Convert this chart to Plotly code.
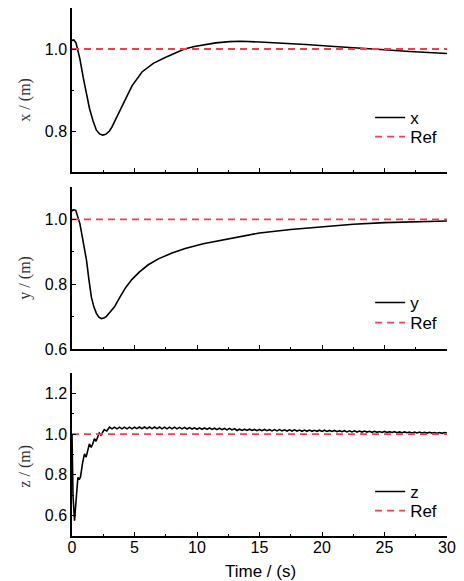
import plotly.graph_objects as go

# ---------------- data ----------------
x_time = [0, 0.15, 0.32, 0.5, 0.63, 0.9, 1.16, 1.4, 1.68, 1.95, 2.2, 2.45, 2.7, 3.0,
          3.2, 3.6, 4.0, 4.3, 4.8, 5.6, 6.5, 7.5, 8.3, 9.0, 9.8, 10.6, 11.5, 12.6,
          13.5, 15, 17, 18.7, 21, 23.1, 25, 27, 30]
x_vals = [1.021, 1.022, 1.015, 0.995, 0.976, 0.93, 0.89, 0.855, 0.825, 0.802, 0.793,
          0.79, 0.792, 0.80, 0.81, 0.835, 0.862, 0.882, 0.91, 0.944, 0.965, 0.98,
          0.991, 1.0, 1.006, 1.011, 1.015, 1.018, 1.019, 1.017, 1.014, 1.011, 1.006,
          1.001, 0.998, 0.994, 0.989]

y_time = [0, 0.1, 0.3, 0.45, 0.63, 0.9, 1.16, 1.35, 1.55, 1.75, 1.95, 2.15, 2.35, 2.55,
          2.74, 3.0, 3.4, 3.8, 4.3, 4.8, 5.4, 6.1, 6.95, 8.0, 9.05, 10.5, 12.6, 15,
          17.5, 20, 22.5, 25, 27.5, 30]
y_vals = [1.025, 1.03, 1.028, 1.01, 0.987, 0.93, 0.874, 0.815, 0.76, 0.73, 0.71, 0.698,
          0.694, 0.696, 0.70, 0.712, 0.73, 0.758, 0.79, 0.815, 0.838, 0.86, 0.879,
          0.896, 0.91, 0.925, 0.94, 0.958, 0.969, 0.978, 0.985, 0.99, 0.993, 0.995]

z_time = [0, 0.08, 0.2, 0.32, 0.47, 0.6, 0.68, 0.85, 1.0, 1.13, 1.25, 1.39, 1.53, 1.65,
          1.79, 1.92, 2.05, 2.18, 2.32, 2.45, 2.58, 2.78, 3.0,
          3.2, 3.4, 3.6, 3.8, 4.0, 4.2, 4.4, 4.6, 4.8, 5.0,
          5.2, 5.4, 5.6, 5.8, 6.0, 6.2, 6.4, 6.6, 6.8, 7.0,
          7.2, 7.4, 7.6, 7.8, 8.0, 8.2, 8.4, 8.6, 8.8, 9.0,
          9.2, 9.4, 9.6, 9.8, 10.0, 10.2, 10.4, 10.6, 10.8, 11.0,
          11.2, 11.4, 11.6, 11.8, 12.0, 12.2, 12.4, 12.6, 12.8, 13.0,
          13.2, 13.4, 13.6, 13.8, 14.0, 14.2, 14.4, 14.6, 14.8, 15.0,
          15.2, 15.4, 15.6, 15.8, 16.0, 16.2, 16.4, 16.6, 16.8, 17.0,
          17.2, 17.4, 17.6, 17.8, 18.0, 18.2, 18.4, 18.6, 18.8, 19.0,
          19.2, 19.4, 19.6, 19.8, 20.0, 20.2, 20.4, 20.6, 20.8, 21.0,
          21.2, 21.4, 21.6, 21.8, 22.0, 22.2, 22.4, 22.6, 22.8, 23.0,
          23.2, 23.4, 23.6, 23.8, 24.0, 24.2, 24.4, 24.6, 24.8, 25.0,
          25.2, 25.4, 25.6, 25.8, 26.0, 26.2, 26.4, 26.6, 26.8, 27.0,
          27.2, 27.4, 27.6, 27.8, 28.0, 28.2, 28.4, 28.6, 28.8, 29.0,
          29.2, 29.4, 29.6, 29.8, 30.0]
z_vals = [1.0, 0.70, 0.575, 0.66, 0.787, 0.78, 0.79, 0.86, 0.903, 0.887, 0.915, 0.952,
          0.935, 0.95, 0.977, 0.965, 0.985, 1.005, 0.995, 1.008, 1.022, 1.015, 1.034,
          1.026, 1.034, 1.026, 1.034, 1.026, 1.034, 1.026, 1.034, 1.026, 1.034,
          1.027, 1.035, 1.027, 1.035, 1.027, 1.035, 1.027, 1.035, 1.027, 1.035,
          1.026, 1.034, 1.026, 1.034, 1.026, 1.034, 1.026, 1.033, 1.026, 1.033,
          1.025, 1.032, 1.025, 1.031, 1.024, 1.031, 1.024, 1.030, 1.023, 1.030,
          1.023, 1.029, 1.022, 1.029, 1.022, 1.028, 1.021, 1.028, 1.021, 1.027,
          1.018, 1.024, 1.018, 1.024, 1.018, 1.024, 1.018, 1.023, 1.017, 1.023,
          1.017, 1.023, 1.017, 1.022, 1.016, 1.022, 1.016, 1.022, 1.016, 1.021,
          1.015, 1.021, 1.015, 1.021, 1.015, 1.020, 1.014, 1.020, 1.014, 1.020,
          1.014, 1.019, 1.014, 1.019, 1.013, 1.019, 1.013, 1.018, 1.013, 1.018,
          1.012, 1.017, 1.012, 1.017, 1.011, 1.016, 1.011, 1.016, 1.010, 1.015,
          1.010, 1.015, 1.010, 1.014, 1.009, 1.014, 1.009, 1.013, 1.008, 1.013,
          1.008, 1.012, 1.008, 1.012, 1.007, 1.011, 1.007, 1.011, 1.007, 1.010,
          1.006, 1.010, 1.006, 1.010, 1.005, 1.009, 1.005, 1.009, 1.005, 1.008,
          1.004, 1.008, 1.004, 1.008, 1.005]

ref_time = [0, 30]
ref_x = [1.0, 1.0]
ref_y = [1.0, 1.0]
ref_z = [1.0, 1.0]

y_titles = ["x / (m)", "y / (m)", "z / (m)"]
series_names = ["x", "y", "z"]
x_title = "Time / (s)"

# ---------------- figure ----------------
RED = "#f0404f"
SANS = "Liberation Sans, Arial, sans-serif"
SERIF = "Liberation Serif, Times New Roman, serif"

H_TOP, H_BOT = 8, 45
PH = 581 - H_TOP - H_BOT


def frac(p):
    return (581 - H_BOT - p) / PH


fig = go.Figure()
panels = [
    (x_time, x_vals, ref_x, "x", "y"),
    (y_time, y_vals, ref_y, "x2", "y2"),
    (z_time, z_vals, ref_z, "x3", "y3"),
]
legend_tops = [(100, 119), (285, 305), (474, 493)]
leg_common = dict(font=dict(family=SANS, size=17, color="black"),
                  bgcolor="rgba(0,0,0,0)", borderwidth=0,
                  xanchor="left", yanchor="top", x=0.795)
legends = {}
for i, (tt, vv, rr, xa, ya) in enumerate(panels):
    l1 = "legend" if i == 0 else "legend" + str(2 * i + 1)
    l2 = "legend" + str(2 * i + 2)
    legends[l1] = dict(leg_common, y=frac(legend_tops[i][0]))
    legends[l2] = dict(leg_common, y=frac(legend_tops[i][1]))
    fig.add_trace(go.Scatter(x=tt, y=vv, mode="lines", name=series_names[i],
                             line=dict(color="black", width=1.6),
                             xaxis=xa, yaxis=ya, legend=l1))
    fig.add_trace(go.Scatter(x=ref_time, y=rr, mode="lines", name="Ref",
                             line=dict(color=RED, width=1.8, dash="7px,5px"),
                             xaxis=xa, yaxis=ya, legend=l2))

doms = [(frac(172), 1.0), (frac(349), frac(187)), (0.0, frac(373))]
yranges = [[0.7, 1.1], [0.6, 1.1], [0.5, 1.3]]

common_axis = dict(showline=True, linecolor="black", linewidth=1.5, mirror=False,
                   ticks="inside", tickcolor="black", tickwidth=1.2, ticklen=4,
                   showgrid=False, zeroline=False,
                   tickfont=dict(family=SANS, size=16, color="black"))

layout = dict(width=464, height=581, plot_bgcolor="white", paper_bgcolor="white",
              margin=dict(l=72, r=12, t=H_TOP, b=H_BOT), showlegend=True)
layout.update(legends)

for i in range(3):
    sx = "" if i == 0 else str(i + 1)
    extra = {"ticklabelstandoff": -4} if i == 2 else {"matches": "x3"}
    layout["xaxis" + sx] = dict(common_axis, range=[0, 30], dtick=5, tick0=0,
                                anchor="y" + sx, showticklabels=(i == 2),
                                minor=dict(ticks="inside", dtick=2.5, ticklen=2.5,
                                           tickcolor="black", tickwidth=1),
                                **extra)
    layout["yaxis" + sx] = dict(common_axis, range=yranges[i], dtick=0.2, tick0=0,
                                domain=list(doms[i]), anchor="x" + sx,
                                tickformat=".1f",
                                minor=dict(ticks="inside", dtick=0.1, ticklen=2.5,
                                           tickcolor="black", tickwidth=1))

title_centers = [100, 278, 466]
annotations = []
for i in range(3):
    annotations.append(dict(text=y_titles[i], xref="paper", yref="paper",
                            x=(24 - 72) / 380, y=frac(title_centers[i]),
                            xanchor="center", yanchor="middle", textangle=-90,
                            showarrow=False,
                            font=dict(family=SERIF, size=16, color="#333333")))
annotations.append(dict(text=x_title, xref="paper", yref="paper",
                        x=(263 - 72) / 380, y=frac(571), xanchor="center",
                        yanchor="middle", showarrow=False,
                        font=dict(family=SANS, size=17, color="black")))
layout["annotations"] = annotations

fig.update_layout(**layout)
fig.write_html("out.html", config={"displayModeBar": False},
               post_script="document.body.style.margin='0';document.body.style.overflow='hidden';")
